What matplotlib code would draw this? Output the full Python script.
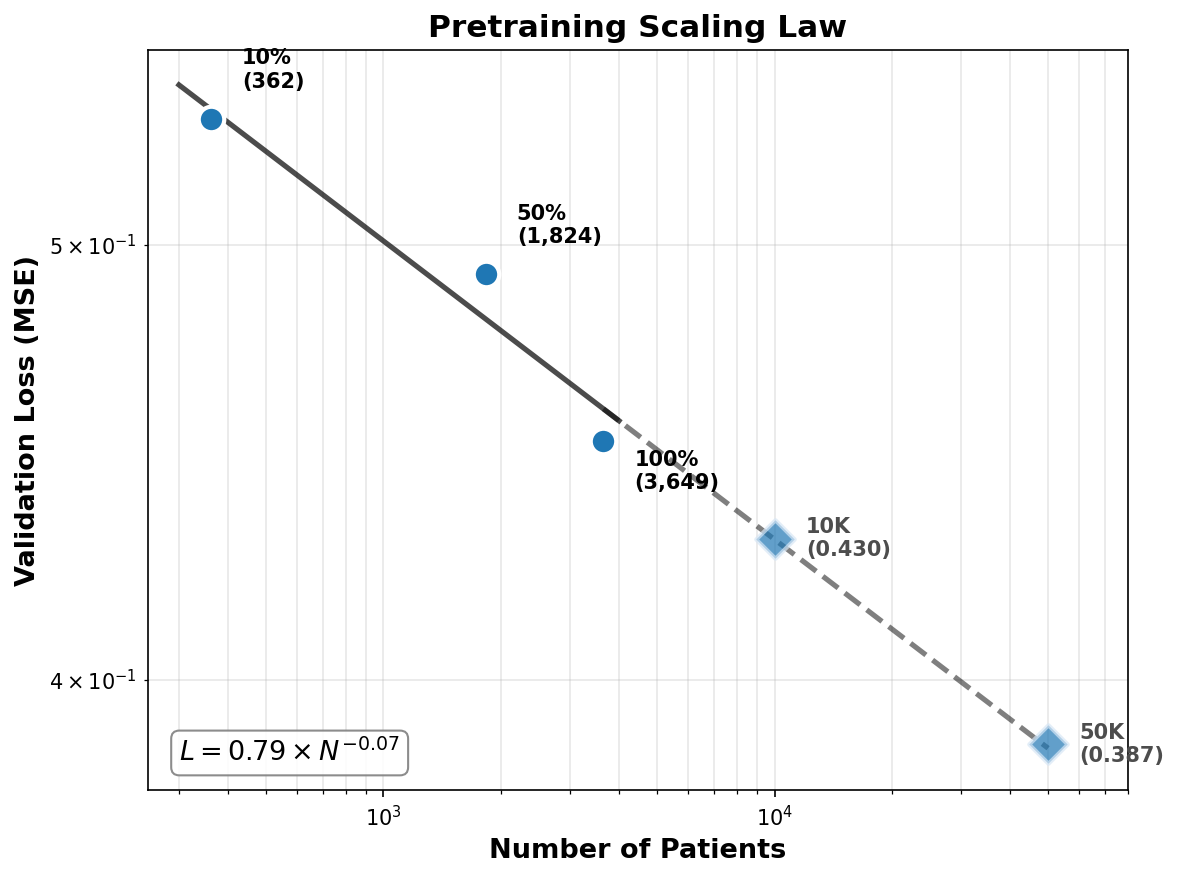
import numpy as np
import matplotlib.pyplot as plt

# observed pretraining runs
n_patients = [362, 1824, 3649]
val_loss = [0.5333, 0.4924, 0.4521]
run_labels = ["10%\n(362)", "50%\n(1,824)", "100%\n(3,649)"]

# extrapolated points
extrap_n = [10000, 50000]
extrap_loss = [0.430, 0.387]
extrap_labels = ["10K\n(0.430)", "50K\n(0.387)"]

# power law L = a * N^b
fit_a = 0.793
fit_b = -0.0665

fig, ax = plt.subplots(figsize=(7.86, 5.867), dpi=150)
fig.subplots_adjust(left=0.1255, right=0.9567, top=0.9432, bottom=0.1023)

n_fit = np.logspace(np.log10(300), np.log10(4000), 100)
ax.plot(n_fit, fit_a * n_fit**fit_b, color="k", alpha=0.7, lw=2.5, zorder=2)
n_ext = np.logspace(np.log10(max(n_patients)), np.log10(50000), 100)
ax.plot(n_ext, fit_a * n_ext**fit_b, color="k", alpha=0.5, lw=2.5, ls="--", zorder=2)

ax.scatter(n_patients, val_loss, s=150, color="#1f77b4", edgecolor="white",
           linewidth=2, zorder=3)
ax.scatter(extrap_n, extrap_loss, s=170, marker="D", color="#1f77b4", alpha=0.7,
           edgecolor="#d6e6f5", linewidth=2, zorder=3)

offsets = [(15, 15), (15, 15), (15, -23)]
for x, y, lab, off in zip(n_patients, val_loss, run_labels, offsets):
    ax.annotate(lab, (x, y), xytext=off, textcoords="offset points",
                fontsize=10, fontweight="bold")
for x, y, lab in zip(extrap_n, extrap_loss, extrap_labels):
    ax.annotate(lab, (x, y), xytext=(15, 0), textcoords="offset points",
                fontsize=10, fontweight="bold", va="center", color="#4d4d4d")

ax.text(0.032, 0.05, r"$L = %.2f \times N^{%.2f}$" % (fit_a, fit_b),
        transform=ax.transAxes, fontsize=13, va="center",
        bbox=dict(boxstyle="round,pad=0.3", facecolor="white", edgecolor="gray",
                  alpha=0.9))

ax.set_xscale("log")
ax.set_yscale("log")
ax.set_xlim(250, 80000)
ax.set_ylim(0.378, 0.5525)
ax.grid(True, which="both", alpha=0.3)
ax.set_xlabel("Number of Patients", fontsize=13, fontweight="bold")
ax.set_ylabel("Validation Loss (MSE)", fontsize=13, fontweight="bold")
ax.set_title("Pretraining Scaling Law", fontsize=15, fontweight="bold")

fig.savefig("out.png", dpi=150)
